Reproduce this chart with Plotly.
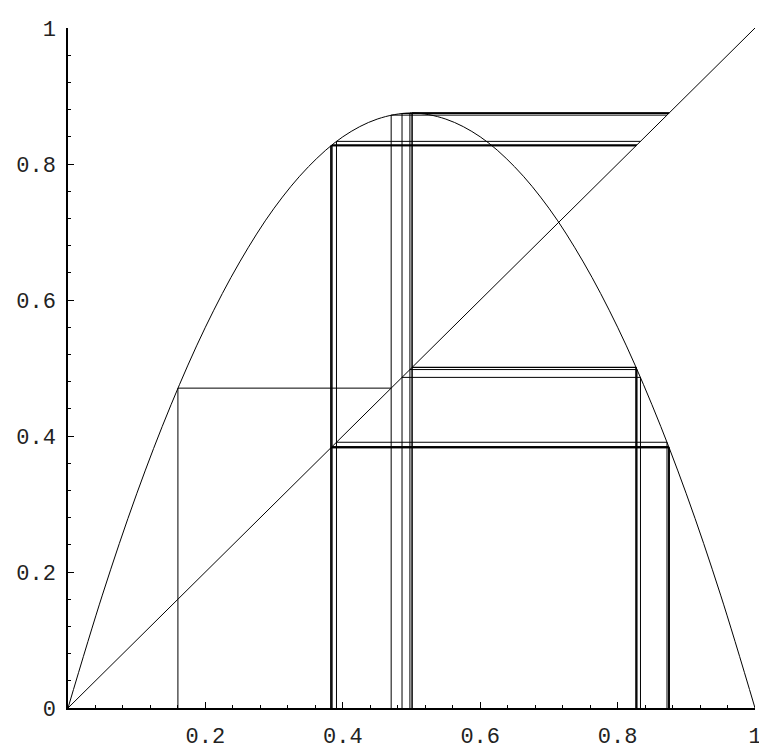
# Cobweb diagram of the logistic map (r = 3.5)

import plotly.graph_objects as go

# parabola y = f(x), read at steps of 0.05
curve_x = [0.0, 0.05, 0.1, 0.15, 0.2, 0.25, 0.3, 0.35, 0.4, 0.45, 0.5,
           0.55, 0.6, 0.65, 0.7, 0.75, 0.8, 0.85, 0.9, 0.95, 1.0]
curve_y = [0.0, 0.166, 0.315, 0.446, 0.56, 0.656, 0.735, 0.796, 0.84, 0.866, 0.875,
           0.866, 0.84, 0.796, 0.735, 0.656, 0.56, 0.446, 0.315, 0.166, 0.0]

# diagonal y = x
diag_x = [0.0, 1.0]
diag_y = [0.0, 1.0]

# orbit points x0, x1, x2, ...
orbit = [0.16, 0.4704, 0.8719, 0.3908, 0.8333, 0.4862, 0.8743, 0.3845,
         0.8283, 0.4977, 0.8750, 0.3829, 0.8270, 0.5008, 0.8750, 0.3828,
         0.8269, 0.5009, 0.8750, 0.3828, 0.8269, 0.5009]

# tick labels
x_ticks = [0.0, 0.2, 0.4, 0.6, 0.8, 1.0]
x_tick_text = ["", "0.2", "0.4", "0.6", "0.8", "1"]
y_ticks = [0.0, 0.2, 0.4, 0.6, 0.8, 1.0]
y_tick_text = ["0", "0.2", "0.4", "0.6", "0.8", "1"]

# build the cobweb path: (x_n, 0) -> (x_n, x_{n+1}) -> (x_{n+1}, x_{n+1})
web_x, web_y = [], []
for a, b in zip(orbit[:-1], orbit[1:]):
    web_x += [a, a, b, None]
    web_y += [0, b, b, None]

fig = go.Figure()
line_style = dict(color="black", width=1)
fig.add_trace(go.Scatter(x=curve_x, y=curve_y, mode="lines", line=line_style,
                         line_shape="spline", hoverinfo="skip", cliponaxis=False))
fig.add_trace(go.Scatter(x=diag_x, y=diag_y, mode="lines", line=line_style,
                         hoverinfo="skip", cliponaxis=False))
fig.add_trace(go.Scatter(x=web_x, y=web_y, mode="lines", line=line_style,
                         hoverinfo="skip", cliponaxis=False))

axis_common = dict(
    range=[0, 1], showgrid=False, zeroline=False, showline=True, automargin=False,
    linecolor="black", linewidth=1.5, ticks="inside", ticklen=6, tickwidth=1,
    tickcolor="black", tickfont=dict(family="Liberation Mono", size=22, color="#222222"),
    ticklabeloverflow="allow",
    minor=dict(ticks="inside", ticklen=3, tickwidth=1, tickcolor="black", dtick=0.04),
)

fig.update_layout(
    template="none",
    width=759, height=750,
    margin=dict(l=68, r=4, t=28, b=42),
    paper_bgcolor="white", plot_bgcolor="white",
    showlegend=False,
    xaxis=dict(axis_common, tickvals=x_ticks, ticktext=x_tick_text, ticklabelstandoff=7),
    yaxis=dict(axis_common, tickvals=y_ticks, ticktext=y_tick_text, ticklabelstandoff=6),
)

# drop the default page margin so the figure sits at the window's corner
fig.write_html("out.html", config={"displayModeBar": False},
               post_script="document.body.style.margin='0';")
